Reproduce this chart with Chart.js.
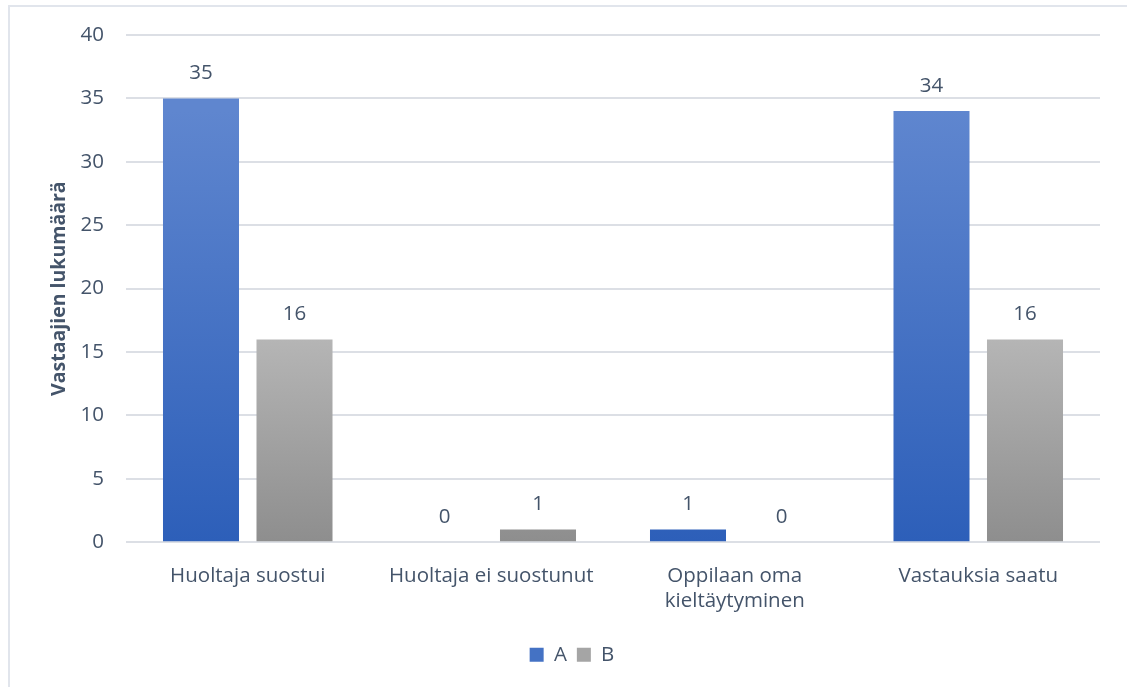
<!DOCTYPE html>
<html>
<head>
<meta charset="utf-8">
<script src="https://cdn.jsdelivr.net/npm/chart.js@4"></script>
<style>
  html, body { margin: 0; padding: 0; background: #fff; overflow: hidden; }
  .frame {
    position: absolute; left: 8px; top: 5px; width: 1140px; height: 700px;
    border-left: 2px solid #e1e5ec; border-top: 2px solid #e1e5ec;
  }
  .wrap { position: absolute; left: 0; top: 0; width: 1127px; height: 687px; }
</style>
</head>
<body>
<div class="frame"></div>
<div class="wrap"><canvas id="chart" width="1127" height="687"></canvas></div>
<script>
// Categories, series and axis settings
const categories = ['Huoltaja suostui', 'Huoltaja ei suostunut', ['Oppilaan oma', 'kieltäytyminen'], 'Vastauksia saatu'];
const seriesA = [35, 0, 1, 34];
const seriesB = [16, 1, 0, 16];
const seriesNames = ['A', 'B'];
const yTicks = { min: 0, max: 40, step: 5 };
const yTitle = 'Vastaajien lukumäärä';

const textColor = '#44546a';
const fontFamily = '"Open Sans", "Noto Sans", sans-serif';
const fontSize = 20.5;

// top/bottom colours for the vertical fill of each bar
const fills = [
  { top: '#5f86cf', bottom: '#2d5fb9', flat: '#4472c4' },
  { top: '#b5b5b5', bottom: '#8e8e8e', flat: '#a5a5a5' }
];

// Each bar gets its own gradient, from its top edge down to the baseline
const barGradient = {
  id: 'barGradient',
  beforeDatasetsDraw(chart) {
    const ctx = chart.ctx;
    chart.data.datasets.forEach((ds, i) => {
      const meta = chart.getDatasetMeta(i);
      meta.data.forEach(el => {
        const top = Math.min(el.y, el.base);
        const bottom = Math.max(el.y, el.base);
        if (bottom - top < 1) return;
        const g = ctx.createLinearGradient(0, top, 0, bottom);
        g.addColorStop(0, fills[i].top);
        g.addColorStop(1, fills[i].bottom);
        el.options.backgroundColor = g;
      });
    });
  }
};

// Value above every bar
const valueLabels = {
  id: 'valueLabels',
  afterDatasetsDraw(chart) {
    const ctx = chart.ctx;
    ctx.save();
    ctx.font = fontSize + 'px ' + fontFamily;
    ctx.fillStyle = textColor;
    ctx.textAlign = 'center';
    ctx.textBaseline = 'middle';
    chart.data.datasets.forEach((ds, i) => {
      chart.getDatasetMeta(i).data.forEach((el, j) => {
        ctx.fillText(String(ds.data[j]), el.x, el.y - 25);
      });
    });
    ctx.restore();
  }
};

// Nudge the legend a little right of the canvas centre
const legendShift = {
  id: 'legendShift',
  afterLayout(chart) {
    chart.legend.left += 18;
    chart.legend.right += 18;
  }
};

new Chart(document.getElementById('chart'), {
  type: 'bar',
  data: {
    labels: categories,
    datasets: [
      { label: seriesNames[0], data: seriesA, backgroundColor: fills[0].flat },
      { label: seriesNames[1], data: seriesB, backgroundColor: fills[1].flat }
    ]
  },
  options: {
    responsive: false,
    animation: false,
    events: [],
    categoryPercentage: 0.768,
    barPercentage: 0.813,
    layout: { padding: { left: 8, right: 27, top: 35, bottom: 12 } },
    scales: {
      x: {
        grid: { display: false },
        border: { display: false },
        ticks: {
          color: textColor,
          font: { family: fontFamily, size: fontSize },
          padding: 14,
          maxRotation: 0
        },
        afterFit(scale) { scale.height += 7; }
      },
      y: {
        min: yTicks.min,
        max: yTicks.max,
        grid: { color: '#dcdfe5', lineWidth: 2, drawTicks: false },
        border: { display: false },
        ticks: {
          stepSize: yTicks.step,
          color: textColor,
          font: { family: fontFamily, size: fontSize },
          padding: 22
        },
        title: {
          display: true,
          text: yTitle,
          color: textColor,
          font: { family: fontFamily, size: 19.5, weight: 'bold' },
          padding: { top: 40, bottom: 0 }
        },
        afterFit(scale) { scale.width = 118; }
      }
    },
    plugins: {
      tooltip: { enabled: false },
      legend: {
        position: 'bottom',
        labels: {
          color: textColor,
          font: { family: fontFamily, size: fontSize },
          boxWidth: 14,
          boxHeight: 14,
          padding: 10
        }
      }
    }
  },
  plugins: [barGradient, valueLabels, legendShift]
});
</script>
</body>
</html>
